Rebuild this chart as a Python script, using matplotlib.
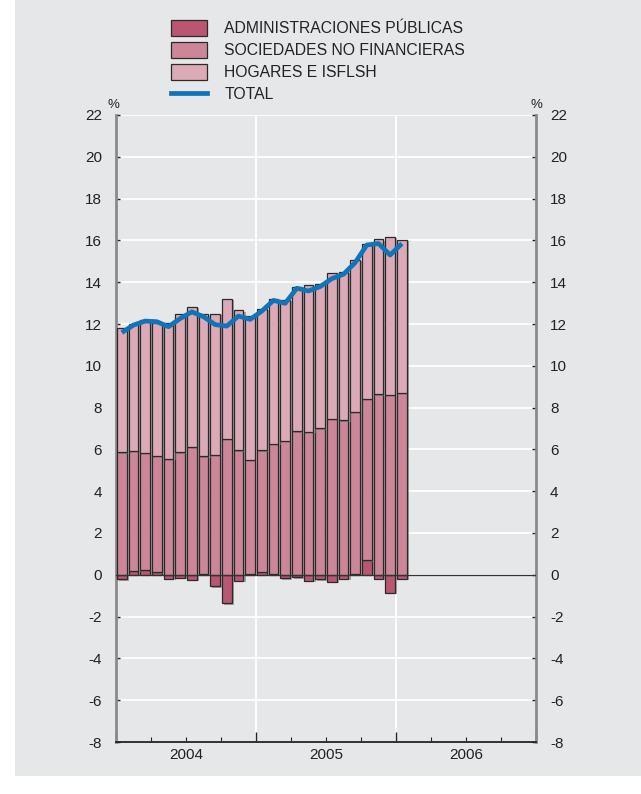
import matplotlib.pyplot as plt
import matplotlib.patheffects as pe
from matplotlib.patches import Patch, Rectangle
from matplotlib.lines import Line2D
import numpy as np

plt.rcParams['font.family'] = ['Liberation Sans', 'DejaVu Sans']
plt.rcParams['axes.unicode_minus'] = False

# monthly data, Jan 2004 - Jan 2006
aapp = [-0.21, 0.20, 0.25, 0.12, -0.18, -0.15, -0.25, 0.02, -0.55, -1.37, -0.28, 0.02,
        0.15, 0.04, -0.17, -0.12, -0.30, -0.21, -0.33, -0.18, 0.06, 0.69, -0.18, -0.85, -0.18]
soc_top = [5.86, 5.94, 5.83, 5.70, 5.54, 5.86, 6.13, 5.67, 5.73, 6.50, 5.96, 5.51,
           5.96, 6.26, 6.40, 6.87, 6.83, 7.01, 7.47, 7.39, 7.81, 8.43, 8.64, 8.60, 8.70]
bar_top = [11.79, 12.00, 12.20, 12.03, 12.05, 12.46, 12.81, 12.46, 12.50, 13.21, 12.65, 12.40,
           12.74, 13.18, 13.15, 13.77, 13.87, 13.93, 14.46, 14.50, 15.08, 15.81, 16.05, 16.18, 16.02]
total = [11.59, 11.95, 12.14, 12.11, 11.87, 12.26, 12.58, 12.35, 11.97, 11.90, 12.38, 12.22,
         12.62, 13.13, 12.99, 13.71, 13.58, 13.79, 14.17, 14.38, 14.94, 15.78, 15.85, 15.30, 15.85]
years = ['2004', '2005', '2006']
labels = ['ADMINISTRACIONES PÚBLICAS', 'SOCIEDADES NO FINANCIERAS', 'HOGARES E ISFLSH', 'TOTAL']

aapp = np.array(aapp)
soc_base = np.clip(aapp, 0, None)
soc = np.array(soc_top) - soc_base
hog = np.array(bar_top) - np.array(soc_top)
x = np.arange(len(aapp)) + 0.5

c_aapp, c_soc, c_hog, c_tot = '#b95672', '#cd8598', '#dcaab7', '#1173b8'
bg = '#e6e7e9'
txt = '#222222'

fig = plt.figure(figsize=(6.41, 7.94), dpi=100)
fig.patches.append(Rectangle((15 / 641, 18 / 794), 1, 1, transform=fig.transFigure,
                             facecolor=bg, edgecolor='none', zorder=-10))
ax = fig.add_axes([116 / 641, 1 - 742 / 794, 420 / 641, 627 / 794])
ax.set_facecolor(bg)

shadow = [pe.SimplePatchShadow(offset=(1.5, -1), shadow_rgbFace='#707070', alpha=0.6), pe.Normal()]
kw = dict(width=0.85, edgecolor='#2a2a2a', linewidth=0.9, zorder=3)
b1 = ax.bar(x, aapp, color=c_aapp, **kw)
b2 = ax.bar(x, soc, bottom=soc_base, color=c_soc, **kw)
b3 = ax.bar(x, hog, bottom=soc_top, color=c_hog, **kw)
for bars in (b1, b2, b3):
    for p in bars:
        p.set_path_effects(shadow)
ax.plot(x, total, color=c_tot, linewidth=3.4, zorder=5, solid_capstyle='butt')
ax.axhline(0, color='#333333', linewidth=0.9, zorder=4)

ax.set_xlim(0, 36)
ax.set_ylim(-8, 22)
ax.set_yticks(np.arange(-8, 23, 2))
ax.grid(axis='y', color='white', linewidth=1.3, zorder=0)
for xv in (12, 24):
    ax.axvline(xv, color='white', linewidth=1.3, zorder=0)

ax.set_xticks([0, 12, 24, 36])
ax.set_xticks(np.arange(0, 37, 3), minor=True)
ax.set_xticklabels([])
ax.tick_params(axis='x', which='major', direction='in', length=7, width=1, color=txt)
ax.tick_params(axis='x', which='minor', direction='in', length=3.5, width=0.8, color=txt)
ax.tick_params(axis='y', direction='in', length=3, width=1, color=txt,
               labelsize=11, labelcolor=txt, left=True, right=True,
               labelleft=True, labelright=True, pad=10)
for i, yr in enumerate(years):
    ax.text(6 + 12 * i, -8.3, yr, ha='center', va='top', fontsize=11, color=txt)
ax.text(-0.005, 1.006, '%', transform=ax.transAxes, ha='center', va='bottom', fontsize=9.5, color=txt)
ax.text(1.0, 1.006, '%', transform=ax.transAxes, ha='center', va='bottom', fontsize=9.5, color=txt)

for s in ('left', 'right'):
    ax.spines[s].set_color('#8a8a8a')
    ax.spines[s].set_linewidth(2)
ax.spines['top'].set_visible(False)
ax.spines['bottom'].set_color(txt)
ax.spines['bottom'].set_linewidth(1.3)

handles = [Patch(facecolor=c_aapp, edgecolor='#2a2a2a', linewidth=0.9),
           Patch(facecolor=c_soc, edgecolor='#2a2a2a', linewidth=0.9),
           Patch(facecolor=c_hog, edgecolor='#2a2a2a', linewidth=0.9),
           Line2D([], [], color=c_tot, linewidth=3.4)]
fig.legend(handles, labels, loc='upper left', bbox_to_anchor=(171 / 641, 1 - 20 / 794),
           frameon=False, fontsize=11.3, handlelength=2.3, handleheight=1.2,
           handletextpad=1.1, labelspacing=0.36, borderaxespad=0, borderpad=0,
           labelcolor=txt)

fig.savefig('out.png', dpi=100, facecolor='white')
